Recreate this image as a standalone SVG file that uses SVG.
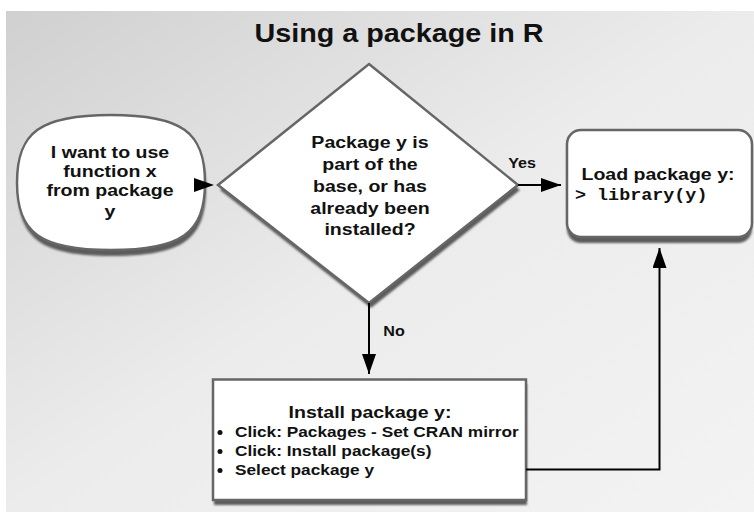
<svg xmlns="http://www.w3.org/2000/svg" width="754" height="512" viewBox="0 0 754 512">
<defs>
<linearGradient id="bg" x1="0" y1="0" x2="1" y2="1">
<stop offset="0" stop-color="#d0d0d0"/>
<stop offset="0.5" stop-color="#ececec"/>
<stop offset="1" stop-color="#f3f3f3"/>
</linearGradient>
<filter id="soft" x="-10%" y="-10%" width="120%" height="130%"><feGaussianBlur stdDeviation="1"/></filter>
<marker id="arr" markerWidth="20" markerHeight="14" refX="20" refY="7" orient="auto" markerUnits="userSpaceOnUse">
<path d="M0,0 L20,7 L0,14 Z" fill="#000"/>
</marker>
</defs>
<style>
.shape{fill:#fff;stroke:#666;stroke-width:2.5}
.shadow{fill:#5c5c5c;filter:url(#soft)}
.t{font-family:"Liberation Sans",Arial,sans-serif;font-weight:bold;fill:#111;text-anchor:middle}
.tl{font-family:"Liberation Sans",Arial,sans-serif;font-weight:bold;fill:#111}
.mono{font-family:"Liberation Mono","Courier New",monospace;font-weight:bold;fill:#111}
.conn{fill:none;stroke:#000;stroke-width:2}
</style>
<rect x="0" y="0" width="754" height="512" fill="#fff"/>
<rect x="6" y="11" width="748" height="501" fill="url(#bg)"/>

<g id="title" transform="translate(399 0) scale(1.15 1)">
<text class="t" x="0" y="42" font-size="25">Using a package in R</text>
</g>

<g id="start">
<path class="shadow" transform="translate(1 6)" d="M17,182.5 C17,131.9 40.5,115 111,115 C181.5,115 205,131.9 205,182.5 C205,233.1 181.5,250 111,250 C40.5,250 17,233.1 17,182.5 Z"/>
<path class="shape" d="M17,182.5 C17,131.9 40.5,115 111,115 C181.5,115 205,131.9 205,182.5 C205,233.1 181.5,250 111,250 C40.5,250 17,233.1 17,182.5 Z"/>
<g transform="translate(110 0) scale(1.15 1)">
<text class="t" font-size="17"><tspan x="0" y="158">I want to use</tspan><tspan x="0" y="177">function x</tspan><tspan x="0" y="196">from package</tspan><tspan x="0" y="217">y</tspan></text>
</g>
</g>

<g id="decision">
<path class="shadow" transform="translate(2 5)" d="M369,64 L518,185 L369,303 L218,185 Z"/>
<path class="shape" d="M369,64 L518,185 L369,303 L218,185 Z"/>
<g transform="translate(370 0) scale(1.15 1)">
<text class="t" font-size="17"><tspan x="0" y="148">Package y is</tspan><tspan x="0" y="170">part of the</tspan><tspan x="0" y="192.5">base, or has</tspan><tspan x="0" y="214">already been</tspan><tspan x="0" y="235.5">installed?</tspan></text>
</g>
</g>

<g id="load">
<rect class="shadow" x="567" y="136" width="185" height="107" rx="14"/>
<rect class="shape" x="567" y="130" width="185" height="107" rx="14"/>
<g transform="translate(658 0) scale(1.15 1)">
<text class="t" x="0" y="180" font-size="17">Load package y:</text>
</g>
<g transform="translate(575 0) scale(1.15 1)">
<text class="mono" x="0" y="200" font-size="16">&gt; library(y)</text>
</g>
</g>

<g id="install">
<rect class="shadow" x="214" y="384" width="313" height="121"/>
<rect class="shape" x="213" y="379.5" width="313" height="120.5"/>
<g transform="translate(370 0) scale(1.15 1)">
<text class="t" x="0" y="418" font-size="17">Install package y:</text>
</g>
<circle cx="220" cy="432.5" r="2.5" fill="#111"/>
<circle cx="220" cy="451.5" r="2.5" fill="#111"/>
<circle cx="220" cy="470.5" r="2.5" fill="#111"/>
<g transform="translate(235 0) scale(1.15 1)">
<text class="tl" font-size="15"><tspan x="0" y="437.5">Click: Packages - Set CRAN mirror</tspan><tspan x="0" y="456.5">Click: Install package(s)</tspan><tspan x="0" y="475.5">Select package y</tspan></text>
</g>
</g>

<g id="connectors">
<path d="M194,178 L214,185 L194,192 Z" fill="#000"/>
<path class="conn" d="M518,185 L561,185" marker-end="url(#arr)"/>
<path class="conn" d="M369,303 L369,374" marker-end="url(#arr)"/>
<path class="conn" d="M526,469.5 L659.5,469.5 L659.5,248" marker-end="url(#arr)"/>
<g transform="translate(522 0) scale(1.15 1)">
<text class="t" x="0" y="168" font-size="14">Yes</text>
</g>
<g transform="translate(394 0) scale(1.15 1)">
<text class="t" x="0" y="336" font-size="14">No</text>
</g>
</g>
</svg>
